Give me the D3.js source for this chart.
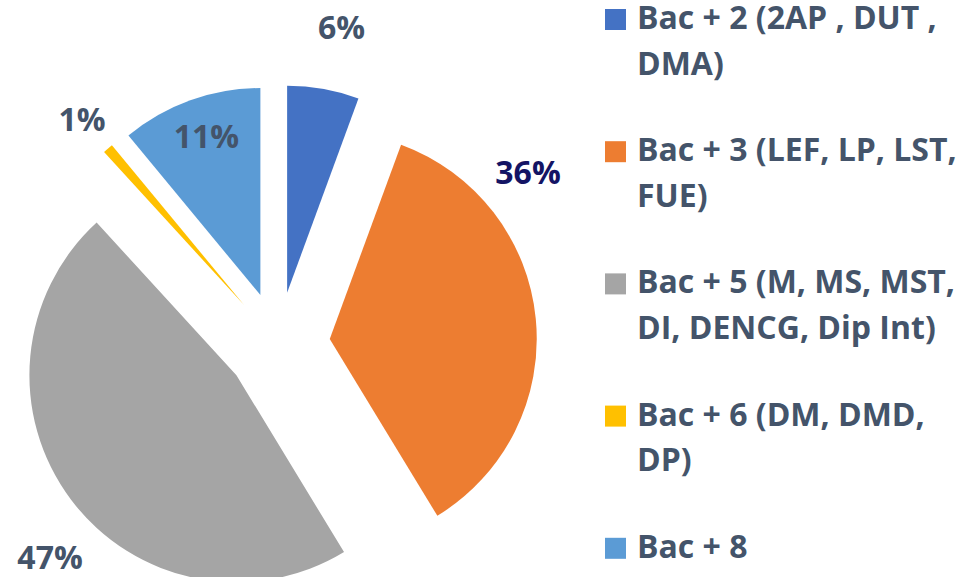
<!DOCTYPE html>
<html>
<head>
<meta charset="utf-8">
<script src="https://cdn.jsdelivr.net/npm/d3@7"></script>
<style>
  body { margin: 0; background: #fff; }
  text { font-family: "Open Sans", Lato, sans-serif; font-weight: bold; }
</style>
</head>
<body>
<div id="chart"></div>
<script>
// Chart data
var categories = [
    "Bac + 2 (2AP , DUT , DMA)",
    "Bac + 3 (LEF, LP, LST, FUE)",
    "Bac + 5 (M, MS, MST, DI, DENCG, Dip Int)",
    "Bac + 6 (DM, DMD, DP)",
    "Bac + 8"
];
var values = [5.6, 35.7, 46.9, 0.8, 11.0];
var colors = ["#4472C4", "#ED7D31", "#A5A5A5", "#FFC000", "#5B9BD5"];

// Label placement (angle shift in degrees, distance as factor of radius)
var labelLayout = [
    { da: 1.5, k: 1.31, color: "#44546A" },
    { da: -34.4, k: 1.25, color: "#141464" },
    { da: -7.5, k: 1.26, color: "#44546A" },
    { da: 0, k: 1.19, color: "#44546A" },
    { da: 1, k: 0.81, color: "#44546A" }
];

// SVG area
var svgWidth = 979;
var svgHeight = 577;
var center = { x: 278, y: 344 };
var radius = 207;
var explode = 52;

var svg = d3.select("#chart")
    .append("svg")
    .attr("width", svgWidth)
    .attr("height", svgHeight);

var total = d3.sum(values);
var pct = d3.format(".0%");

var pie = d3.pie().sort(null).value(d => d);
var arc = d3.arc().innerRadius(0).outerRadius(radius);
var arcs = pie(values);

var pieGroup = svg.append("g")
    .attr("transform", `translate(${center.x}, ${center.y})`);

// Each slice is pulled out along its mid angle
var slices = pieGroup.selectAll(".slice")
    .data(arcs)
    .enter().append("g")
    .attr("class", "slice")
    .attr("transform", function(d) {
        var a = (d.startAngle + d.endAngle) / 2;
        return `translate(${explode * Math.sin(a)}, ${-explode * Math.cos(a)})`;
    });

slices.append("path")
    .attr("d", arc)
    .attr("fill", (d, i) => colors[i]);

// Percent labels
slices.append("text")
    .attr("text-anchor", "middle")
    .attr("dy", "0.36em")
    .attr("font-size", "32px")
    .attr("fill", (d, i) => labelLayout[i].color)
    .attr("x", function(d, i) {
        var a = (d.startAngle + d.endAngle) / 2 + labelLayout[i].da * Math.PI / 180;
        return radius * labelLayout[i].k * Math.sin(a);
    })
    .attr("y", function(d, i) {
        var a = (d.startAngle + d.endAngle) / 2 + labelLayout[i].da * Math.PI / 180;
        return -radius * labelLayout[i].k * Math.cos(a);
    })
    .text(d => pct(d.value / total));

// Legend
var legend = svg.append("g")
    .attr("transform", "translate(605, 29)");

var legendItems = legend.selectAll(".legend-item")
    .data(categories)
    .enter().append("g")
    .attr("class", "legend-item")
    .attr("transform", (d, i) => `translate(0, ${i * 132.2})`);

legendItems.append("rect")
    .attr("x", 0)
    .attr("y", -20)
    .attr("width", 21)
    .attr("height", 21)
    .attr("fill", (d, i) => colors[i]);

var legendText = legendItems.append("text")
    .attr("x", 32)
    .attr("y", 0)
    .attr("font-size", "32px")
    .attr("fill", "#44546A");

// wrap legend labels at word boundaries
legendText.each(function(d) {
    var textEl = d3.select(this);
    var words = d.split(" ");
    var line = [];
    var lineNo = 0;
    var tspan = textEl.append("tspan").attr("x", 32).attr("y", 0);
    words.forEach(function(w) {
        line.push(w);
        tspan.text(line.join(" "));
        if (tspan.node().getComputedTextLength() > 336 && line.length > 1) {
            line.pop();
            tspan.text(line.join(" "));
            line = [w];
            lineNo++;
            tspan = textEl.append("tspan")
                .attr("x", 32)
                .attr("y", lineNo * 45.5)
                .text(w);
        }
    });
});
</script>
</body>
</html>
